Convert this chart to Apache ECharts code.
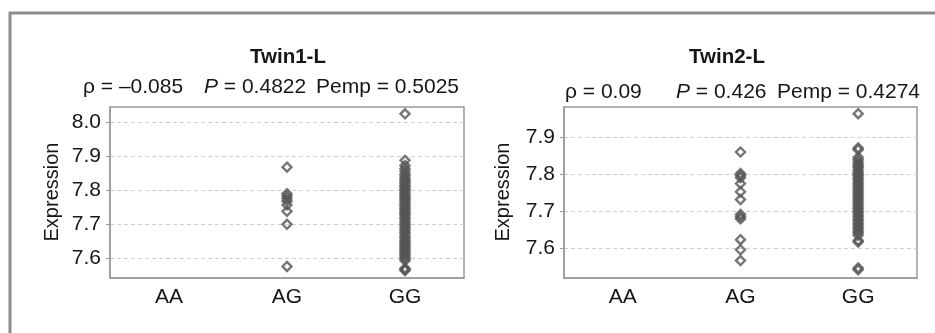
<!DOCTYPE html>
<html>
<head>
<meta charset="utf-8">
<script src="https://cdn.jsdelivr.net/npm/echarts@6/dist/echarts.min.js"></script>
<style>
html,body{margin:0;padding:0;background:#fff;}
#c{width:935px;height:333px;}
</style>
</head>
<body>
<div id="c"></div>
<script>
// ---- data ----
var categories = ['AA', 'AG', 'GG'];
var titles = ['Twin1-L', 'Twin2-L'];
var yTicks1 = [7.6, 7.7, 7.8, 7.9, 8.0];
var yTicks2 = [7.6, 7.7, 7.8, 7.9];
var stats1 = ['ρ = –0.085', '0.4822', '0.5025'];
var stats2 = ['ρ = 0.09', '0.426', '0.4274'];

var twin1AA = [];
var twin1AG = [7.868, 7.790, 7.783, 7.776, 7.768, 7.757, 7.738, 7.700, 7.576];
var twin1GG = [8.025, 7.888, 7.873, 7.864, 7.857, 7.849, 7.843, 7.836, 7.831, 7.826, 7.821,
  7.815, 7.811, 7.806, 7.801, 7.795, 7.789, 7.784, 7.779, 7.774, 7.769, 7.763, 7.758,
  7.753, 7.747, 7.742, 7.736, 7.731, 7.727, 7.721, 7.716, 7.710, 7.704, 7.699, 7.693,
  7.687, 7.681, 7.676, 7.671, 7.664, 7.659, 7.653, 7.648, 7.643, 7.638, 7.633, 7.628,
  7.623, 7.618, 7.613, 7.608, 7.603, 7.598, 7.593, 7.571, 7.567, 7.564];

var twin2AA = [];
var twin2AG = [7.860, 7.802, 7.797, 7.791, 7.775, 7.753, 7.732, 7.692, 7.686, 7.680, 7.624, 7.597, 7.568];
var twin2GG = [7.963, 7.871, 7.866, 7.846, 7.840, 7.834, 7.828, 7.823, 7.818, 7.812, 7.806,
  7.801, 7.796, 7.790, 7.785, 7.779, 7.774, 7.768, 7.763, 7.757, 7.752, 7.746, 7.741,
  7.735, 7.730, 7.724, 7.719, 7.713, 7.708, 7.702, 7.697, 7.691, 7.686, 7.680, 7.675,
  7.669, 7.664, 7.658, 7.653, 7.647, 7.642, 7.636, 7.622, 7.618, 7.548, 7.543];

var yRange1 = [7.542, 8.045];
var yRange2 = [7.521, 7.981];

// ---- build ----
var FONT = '"Liberation Sans", Arial, Helvetica, sans-serif';
var TXT = '#161616';
var AX = '#9a9a9a';
var FS = 21;

function pts(cat, arr) { return arr.map(function (v) { return [cat, v]; }); }

function seriesFor(idx, aa, ag, gg) {
  var d = pts('AA', aa).concat(pts('AG', ag)).concat(pts('GG', gg));
  return {
    type: 'scatter', xAxisIndex: idx, yAxisIndex: idx, data: d,
    symbol: 'diamond', symbolSize: [9, 9],
    itemStyle: { color: 'rgba(255,255,255,0)', borderColor: '#555555', borderWidth: 2.4 },
    silent: true, animation: false
  };
}

function xAx(idx) {
  return {
    type: 'category', gridIndex: idx, data: categories, boundaryGap: true,
    axisLine: { lineStyle: { color: AX, width: 1.5 } },
    axisTick: { alignWithLabel: true, length: 4, lineStyle: { color: AX } },
    axisLabel: { color: TXT, fontFamily: FONT, fontSize: FS, margin: 9 },
    splitLine: { show: false }
  };
}
function yAx(idx, range, ticks) {
  return {
    type: 'value', gridIndex: idx, min: range[0], max: range[1],
    axisLine: { show: true, lineStyle: { color: AX, width: 1.5 } },
    axisTick: { show: true, length: 4, lineStyle: { color: AX }, customValues: ticks },
    axisLabel: { color: TXT, fontFamily: FONT, fontSize: FS, margin: 9, customValues: ticks,
      formatter: function (v) { return (+v).toFixed(1); } },
    splitLine: { show: true, lineStyle: { color: '#cfcfcf', type: [4, 3], width: 1 } }
  };
}

function statText(y, parts, xs) {
  var f = FS + 'px ' + FONT;
  return [
    { type: 'text', x: xs[0], y: y, style: { text: parts[0], font: f, fill: TXT, verticalAlign: 'middle' } },
    { type: 'text', x: xs[1], y: y, style: {
        text: '{i|P} = ' + parts[1], font: f, fill: TXT, verticalAlign: 'middle',
        rich: { i: { fontStyle: 'italic', fontFamily: FONT, fontSize: FS, fill: TXT } } } },
    { type: 'text', x: xs[2], y: y, style: { text: 'Pemp = ' + parts[2], font: f, fill: TXT, verticalAlign: 'middle' } }
  ];
}

var graphics = [
  { type: 'line', shape: { x1: 9, y1: 13, x2: 935, y2: 13 }, style: { stroke: '#8c8c8c', lineWidth: 3 } },
  { type: 'line', shape: { x1: 10, y1: 12, x2: 10, y2: 333 }, style: { stroke: '#8c8c8c', lineWidth: 3 } },
  { type: 'text', x: 288, y: 57, style: { text: titles[0], font: 'bold 20.5px ' + FONT, fill: TXT, align: 'center', verticalAlign: 'middle' } },
  { type: 'text', x: 727, y: 57, style: { text: titles[1], font: 'bold 20.5px ' + FONT, fill: TXT, align: 'center', verticalAlign: 'middle' } },
  { type: 'text', x: 52, y: 192, rotation: Math.PI / 2, style: { text: 'Expression', font: '20px ' + FONT, fill: TXT, align: 'center', verticalAlign: 'middle' } },
  { type: 'text', x: 503, y: 192, rotation: Math.PI / 2, style: { text: 'Expression', font: '20px ' + FONT, fill: TXT, align: 'center', verticalAlign: 'middle' } }
].concat(statText(87, stats1, [83, 204, 316])).concat(statText(92, stats2, [565, 676, 777]));

var chart = echarts.init(document.getElementById('c'), null, { renderer: 'canvas' });
chart.setOption({
  animation: false,
  backgroundColor: '#fff',
  grid: [
    { left: 110, top: 107, width: 354, height: 171, show: true, borderColor: AX, borderWidth: 1.5, backgroundColor: 'transparent' },
    { left: 564, top: 107, width: 353, height: 171, show: true, borderColor: AX, borderWidth: 1.5, backgroundColor: 'transparent' }
  ],
  xAxis: [xAx(0), xAx(1)],
  yAxis: [yAx(0, yRange1, yTicks1), yAx(1, yRange2, yTicks2)],
  series: [seriesFor(0, twin1AA, twin1AG, twin1GG), seriesFor(1, twin2AA, twin2AG, twin2GG)],
  graphic: graphics
});
</script>
</body>
</html>
